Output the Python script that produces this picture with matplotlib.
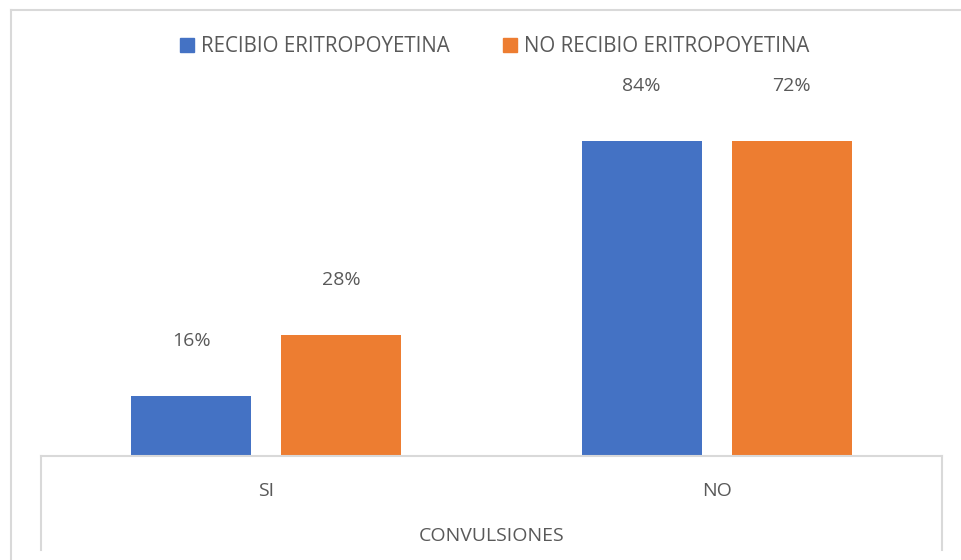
import numpy as np
import matplotlib.pyplot as plt
from matplotlib.lines import Line2D
from matplotlib.patches import Patch

plt.rcParams['font.family'] = ['Open Sans', 'DejaVu Sans']

# Data
categories = ['SI', 'NO']
recibio = [16, 84]
no_recibio = [28, 72]
series_names = ['RECIBIO ERITROPOYETINA', 'NO RECIBIO ERITROPOYETINA']
colors = ['#4472C4', '#ED7D31']
text_color = '#595959'
grid_color = '#d9d9d9'

W, H = 961, 560
fs = 14
fig = plt.figure(figsize=(W / 100, H / 100), dpi=100)

# plot area in pixels: x 41..942, y 141..456
ax = fig.add_axes([41 / W, 1 - 456 / H, (942 - 41) / W, (456 - 141) / H])

x = np.arange(len(categories))
width = 0.266
off = 0.1665
ymin, ymax = 4.2, 66.2

for i, (vals, c) in enumerate(zip([recibio, no_recibio], colors)):
    xs = x + (-off if i == 0 else off)
    ax.bar(xs, vals, width=width, color=c, zorder=2)
    for xi, v in zip(xs, vals):
        ax.annotate(f'{v}%', xy=(xi, min(v, ymax)), xytext=(0, 55 * 0.72),
                    textcoords='offset points', ha='center', va='center',
                    fontsize=fs, color=text_color, annotation_clip=False)

ax.set_xlim(-0.5, 1.5)
ax.set_ylim(ymin, ymax)
ax.set_yticks([])
ax.set_xticks(x)
ax.set_xticklabels(categories, fontsize=fs, color=text_color)
ax.tick_params(axis='x', length=0, pad=19)
for s in ['top', 'right', 'left']:
    ax.spines[s].set_visible(False)
ax.spines['bottom'].set_color(grid_color)
ax.spines['bottom'].set_linewidth(1.5)

ax.set_xlabel('CONVULSIONES', fontsize=fs, color=text_color, labelpad=19)

# box below the axis and outer chart border
def fline(x0, y0, x1, y1):
    fig.add_artist(Line2D([x0 / W, x1 / W], [1 - y0 / H, 1 - y1 / H],
                          color=grid_color, lw=1.5))

fline(41, 456, 41, 550)
fline(942, 456, 942, 550)
fline(11, 9.5, 961, 9.5)
fline(11, 9.5, 11, 560)

handles = [Patch(color=c) for c in colors]
fig.legend(handles, series_names, loc='center', bbox_to_anchor=(495 / W, 1 - 47 / H),
           ncol=2, frameon=False, fontsize=14.8, labelcolor=text_color,
           handlelength=0.66, handleheight=0.66, handletextpad=0.35,
           columnspacing=2.6)

fig.savefig('out.png', dpi=100)
